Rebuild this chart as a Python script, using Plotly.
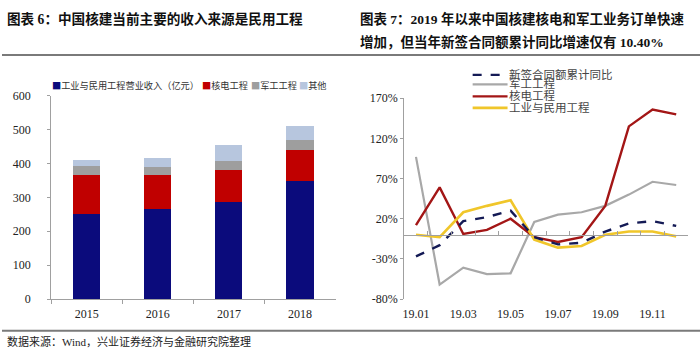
import plotly.graph_objects as go

# ---------------- data ----------------
years = ["2015", "2016", "2017", "2018"]
civil_rev = [250, 265, 285, 348]
nuclear_rev = [115, 100, 97, 93]
military_rev = [27, 25, 24, 28]
other_rev = [19, 25, 49, 42]

months = ["19.01", "19.02", "19.03", "19.04", "19.05", "19.06",
          "19.07", "19.08", "19.09", "19.10", "19.11", "19.12"]
contract_yoy = [-27, -13, 17, 22, 30, -3, -12, -10, 4, 14, 17, 11]
military_yoy = [97, -62, -41, -49, -48, 16, 25, 28, 36, 50, 66, 62]
nuclear_yoy = [12, 59, 1, 6, 20, -3, -9, -3, 36, 135, 156, 150]
civil_yoy = [0, -3, 28, 36, 43, -6, -16, -14, 0, 4, 4, -2]

left_ticks = [0, 100, 200, 300, 400, 500, 600]
right_ticks = [-80, -30, 20, 70, 120, 170]
right_labels = ["19.01", "19.03", "19.05", "19.07", "19.09", "19.11"]

# ---------------- layout constants ----------------
W, H = 700, 355
def py(px):
    return 1 - px / H
def pxx(px):
    return px / W

SERIF_CJK = "Liberation Serif, Noto Sans CJK SC"
CJK = "Noto Sans CJK SC"
AXIS_GRAY = "#a0a0a0"

navy, red, gray, light = "#0b0b7c", "#c00000", "#9e9e9e", "#b7c6de"
c_contract, c_mil, c_nuc, c_civ = "#141a55", "#a8a8a8", "#a31616", "#f0c62a"

fig = go.Figure()

# left stacked bars
for name, vals, col in [("工业与民用工程营业收入（亿元）", civil_rev, navy),
                        ("核电工程", nuclear_rev, red),
                        ("军工工程", military_rev, gray),
                        ("其他", other_rev, light)]:
    fig.add_trace(go.Bar(x=years, y=vals, name=name, marker_color=col,
                         marker_line_width=0, xaxis="x", yaxis="y",
                         showlegend=False))

# right lines
fig.add_trace(go.Scatter(x=months, y=military_yoy, mode="lines",
                         line=dict(color=c_mil, width=2.2),
                         xaxis="x2", yaxis="y2", showlegend=False))
fig.add_trace(go.Scatter(x=months, y=nuclear_yoy, mode="lines",
                         line=dict(color=c_nuc, width=2.4),
                         xaxis="x2", yaxis="y2", showlegend=False))
fig.add_trace(go.Scatter(x=months, y=civil_yoy, mode="lines",
                         line=dict(color=c_civ, width=2.6),
                         xaxis="x2", yaxis="y2", showlegend=False))
fig.add_trace(go.Scatter(x=months, y=contract_yoy, mode="lines",
                         line=dict(color=c_contract, width=2.4, dash="dash"),
                         xaxis="x2", yaxis="y2", showlegend=False))
# dummy trace for the zero-crossing axis
fig.add_trace(go.Scatter(x=[], y=[], xaxis="x3", yaxis="y2", showlegend=False))

ly_dom = [py(304), py(92.3)]
ry_dom = [py(304), py(95)]
lx_dom = [pxx(49.3), pxx(334.5)]
rx_dom = [pxx(403.3), pxx(688)]
zero_pos = ry_dom[0] + (0 - right_ticks[0]) / (right_ticks[-1] - right_ticks[0]) * (ry_dom[1] - ry_dom[0])

tickfont = dict(family=SERIF_CJK, size=12, color="#222")

fig.update_layout(
    width=W, height=H, margin=dict(l=0, r=0, t=0, b=0),
    paper_bgcolor="white", plot_bgcolor="white",
    barmode="stack", bargap=0.62,
    xaxis=dict(domain=lx_dom, anchor="y", type="category",
               showline=True, linecolor=AXIS_GRAY, linewidth=1,
               ticks="outside", ticklen=4, tickcolor=AXIS_GRAY,
               tickson="boundaries", ticklabelstandoff=4,
               tickfont=tickfont, showgrid=False),
    yaxis=dict(domain=ly_dom, anchor="x", range=[0, 600],
               tickvals=left_ticks, showline=True, linecolor=AXIS_GRAY,
               linewidth=1, ticks="outside", ticklen=3, tickcolor=AXIS_GRAY,
               ticklabelstandoff=14, tickfont=tickfont, showgrid=False,
               zeroline=False),
    xaxis2=dict(domain=rx_dom, anchor="y2", type="category",
                range=[-0.5, 11.5], tickmode="array", tickvals=right_labels,
                ticktext=right_labels, showline=False, ticks="",
                ticklabelstandoff=6,
                tickfont=tickfont, showgrid=False, zeroline=False),
    xaxis3=dict(overlaying="x2", anchor="free", position=zero_pos,
                range=[-0.5, 11.5], tickmode="array",
                tickvals=[i - 0.5 for i in range(13)],
                showline=True, linecolor=AXIS_GRAY, linewidth=1,
                ticks="inside", ticklen=4, tickcolor=AXIS_GRAY,
                showticklabels=False, showgrid=False, zeroline=False),
    yaxis2=dict(domain=ry_dom, anchor="x2", range=[-80, 170],
                tickmode="array", tickvals=right_ticks,
                ticktext=[f"{v}%" for v in right_ticks],
                showline=True, linecolor=AXIS_GRAY, linewidth=1,
                ticks="outside", ticklen=3, tickcolor=AXIS_GRAY,
                tickfont=tickfont, showgrid=False, zeroline=False),
)

ann = []
# titles
ann.append(dict(text="图表 6：中国核建当前主要的收入来源是民用工程",
                x=pxx(3), y=py(13), xanchor="left", yanchor="middle",
                font=dict(family=SERIF_CJK, size=13.6, color="#111", weight="bold")))
ann.append(dict(text="图表 7：2019 年以来中国核建核电和军工业务订单快速",
                x=pxx(357), y=py(13), xanchor="left", yanchor="middle",
                font=dict(family=SERIF_CJK, size=13.5, color="#111", weight="bold")))
ann.append(dict(text="增加，但当年新签合同额累计同比增速仅有 10.40%",
                x=pxx(357), y=py(36.5), xanchor="left", yanchor="middle",
                font=dict(family=SERIF_CJK, size=13.5, color="#111", weight="bold")))
# footer
ann.append(dict(text="数据来源：Wind，兴业证券经济与金融研究院整理",
                x=pxx(3), y=py(348.5), xanchor="left", yanchor="middle",
                font=dict(family=SERIF_CJK, size=11, color="#222")))

# left legend
for x0, col, txt in [(48, navy, "工业与民用工程营业收入（亿元）"),
                     (199, red, "核电工程"),
                     (248, gray, "军工工程"),
                     (296, light, "其他")]:
    ann.append(dict(text=f"<span style='color:{col}'>■</span>{txt}",
                    x=pxx(x0), y=py(81.7), xanchor="left", yanchor="middle",
                    font=dict(family=CJK, size=9.2, color="#333")))

shapes = []
# rules
for yy in (50, 337):
    shapes.append(dict(type="line", xref="paper", yref="paper",
                       x0=0, x1=1, y0=py(yy), y1=py(yy),
                       line=dict(color="#7a7a7a", width=2)))

# right legend
for yy, col, dash, w, txt in [(70.7, c_contract, "dash", 2.4, "新签合同额累计同比"),
                              (80.5, c_mil, "solid", 2.2, "军工工程"),
                              (93, c_nuc, "solid", 2.4, "核电工程"),
                              (105, c_civ, "solid", 2.6, "工业与民用工程")]:
    shapes.append(dict(type="line", xref="paper", yref="paper",
                       x0=pxx(472), x1=pxx(507), y0=py(yy), y1=py(yy),
                       line=dict(color=col, width=w, dash=dash)))
    ann.append(dict(text=txt, x=pxx(506), y=py(yy - 1), xanchor="left",
                    yanchor="middle",
                    font=dict(family=CJK, size=11.5, color="#444")))

for a in ann:
    a.update(xref="paper", yref="paper", showarrow=False)

fig.update_layout(annotations=ann, shapes=shapes)

fig.write_html("out.html",
               config={"displayModeBar": False},
               post_script="document.body.style.margin='0';document.body.style.padding='0';")
